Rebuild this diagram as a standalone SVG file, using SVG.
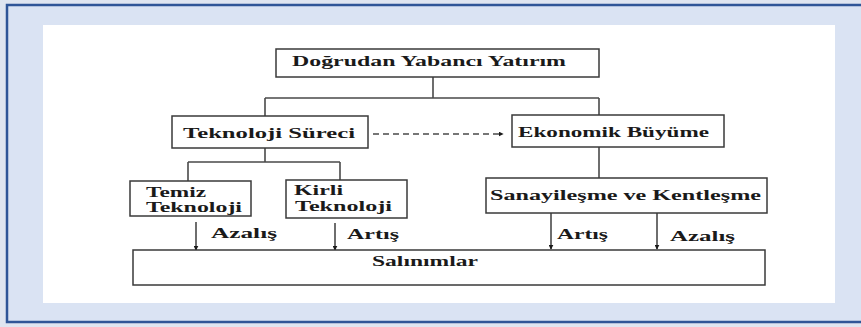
<svg xmlns="http://www.w3.org/2000/svg" width="861" height="327" viewBox="0 0 861 327">
<defs>
<style>
.box{fill:#ffffff;stroke:#3a3a3a;stroke-width:1.5}
.ln{fill:none;stroke:#4a4a4a;stroke-width:1.6}
.t{font-family:"Liberation Serif","Times New Roman",serif;font-weight:bold;font-size:15px;fill:#1a1a1a}
</style>
<marker id="ah" viewBox="0 0 8 8" refX="7" refY="4" markerWidth="5" markerHeight="5" orient="auto" markerUnits="userSpaceOnUse">
<path d="M0,0 L8,4 L0,8 Z" fill="#1a1a1a"/>
</marker>
</defs>
<rect x="0" y="0" width="861" height="327" fill="#dfe5f0"/>
<rect x="7" y="5" width="870" height="317" fill="#dae3f3" stroke="#2f5597" stroke-width="2.5"/>
<rect x="43" y="25" width="792" height="278" fill="#ffffff"/>

<g id="connectors">
<path class="ln" d="M433,77 V98 M265,98 H599 M265,98 V116 M599,98 V115"/>
<path class="ln" d="M265,148 V162 M188,162 H340 M188,162 V181 M340,162 V180"/>
<path class="ln" d="M599,147 V178"/>
<line x1="373" y1="134" x2="503" y2="134" class="ln" stroke-dasharray="6,4" marker-end="url(#ah)"/>
<line x1="196" y1="222" x2="196" y2="250" class="ln" marker-end="url(#ah)"/>
<line x1="335" y1="223" x2="335" y2="250" class="ln" marker-end="url(#ah)"/>
<line x1="551" y1="213" x2="551" y2="249" class="ln" marker-end="url(#ah)"/>
<line x1="657" y1="213" x2="657" y2="249" class="ln" marker-end="url(#ah)"/>
<text class="t" x="211" y="238" textLength="66" lengthAdjust="spacingAndGlyphs">Azalış</text>
<text class="t" x="347" y="239" textLength="52" lengthAdjust="spacingAndGlyphs">Artış</text>
<text class="t" x="557" y="239" textLength="51" lengthAdjust="spacingAndGlyphs">Artış</text>
<text class="t" x="670" y="241" textLength="65" lengthAdjust="spacingAndGlyphs">Azalış</text>
</g>

<g id="dyy">
<rect class="box" x="276" y="49" width="323" height="28"/>
<text class="t" x="292" y="66" textLength="274" lengthAdjust="spacingAndGlyphs">Doğrudan Yabancı Yatırım</text>
</g>
<g id="teknoloji">
<rect class="box" x="172" y="116" width="196" height="32"/>
<text class="t" x="183" y="138" textLength="172" lengthAdjust="spacingAndGlyphs">Teknoloji Süreci</text>
</g>
<g id="ekonomik">
<rect class="box" x="512" y="115" width="212" height="32"/>
<text class="t" x="518" y="137" textLength="191" lengthAdjust="spacingAndGlyphs">Ekonomik Büyüme</text>
</g>
<g id="temiz">
<rect class="box" x="130" y="181" width="121" height="35"/>
<text class="t" x="146" y="197" textLength="60" lengthAdjust="spacingAndGlyphs">Temiz</text>
<text class="t" x="146" y="212" textLength="96" lengthAdjust="spacingAndGlyphs">Teknoloji</text>
</g>
<g id="kirli">
<rect class="box" x="286" y="180" width="121" height="38"/>
<text class="t" x="294" y="195" textLength="49" lengthAdjust="spacingAndGlyphs">Kirli</text>
<text class="t" x="295" y="211" textLength="97" lengthAdjust="spacingAndGlyphs">Teknoloji</text>
</g>
<g id="sanayi">
<rect class="box" x="486" y="178" width="281" height="35"/>
<text class="t" x="490" y="200" textLength="271" lengthAdjust="spacingAndGlyphs">Sanayileşme ve Kentleşme</text>
</g>
<g id="salinimlar">
<rect class="box" x="133" y="250" width="632" height="35"/>
<text class="t" x="372" y="266" textLength="106" lengthAdjust="spacingAndGlyphs">Salınımlar</text>
</g>
</svg>
